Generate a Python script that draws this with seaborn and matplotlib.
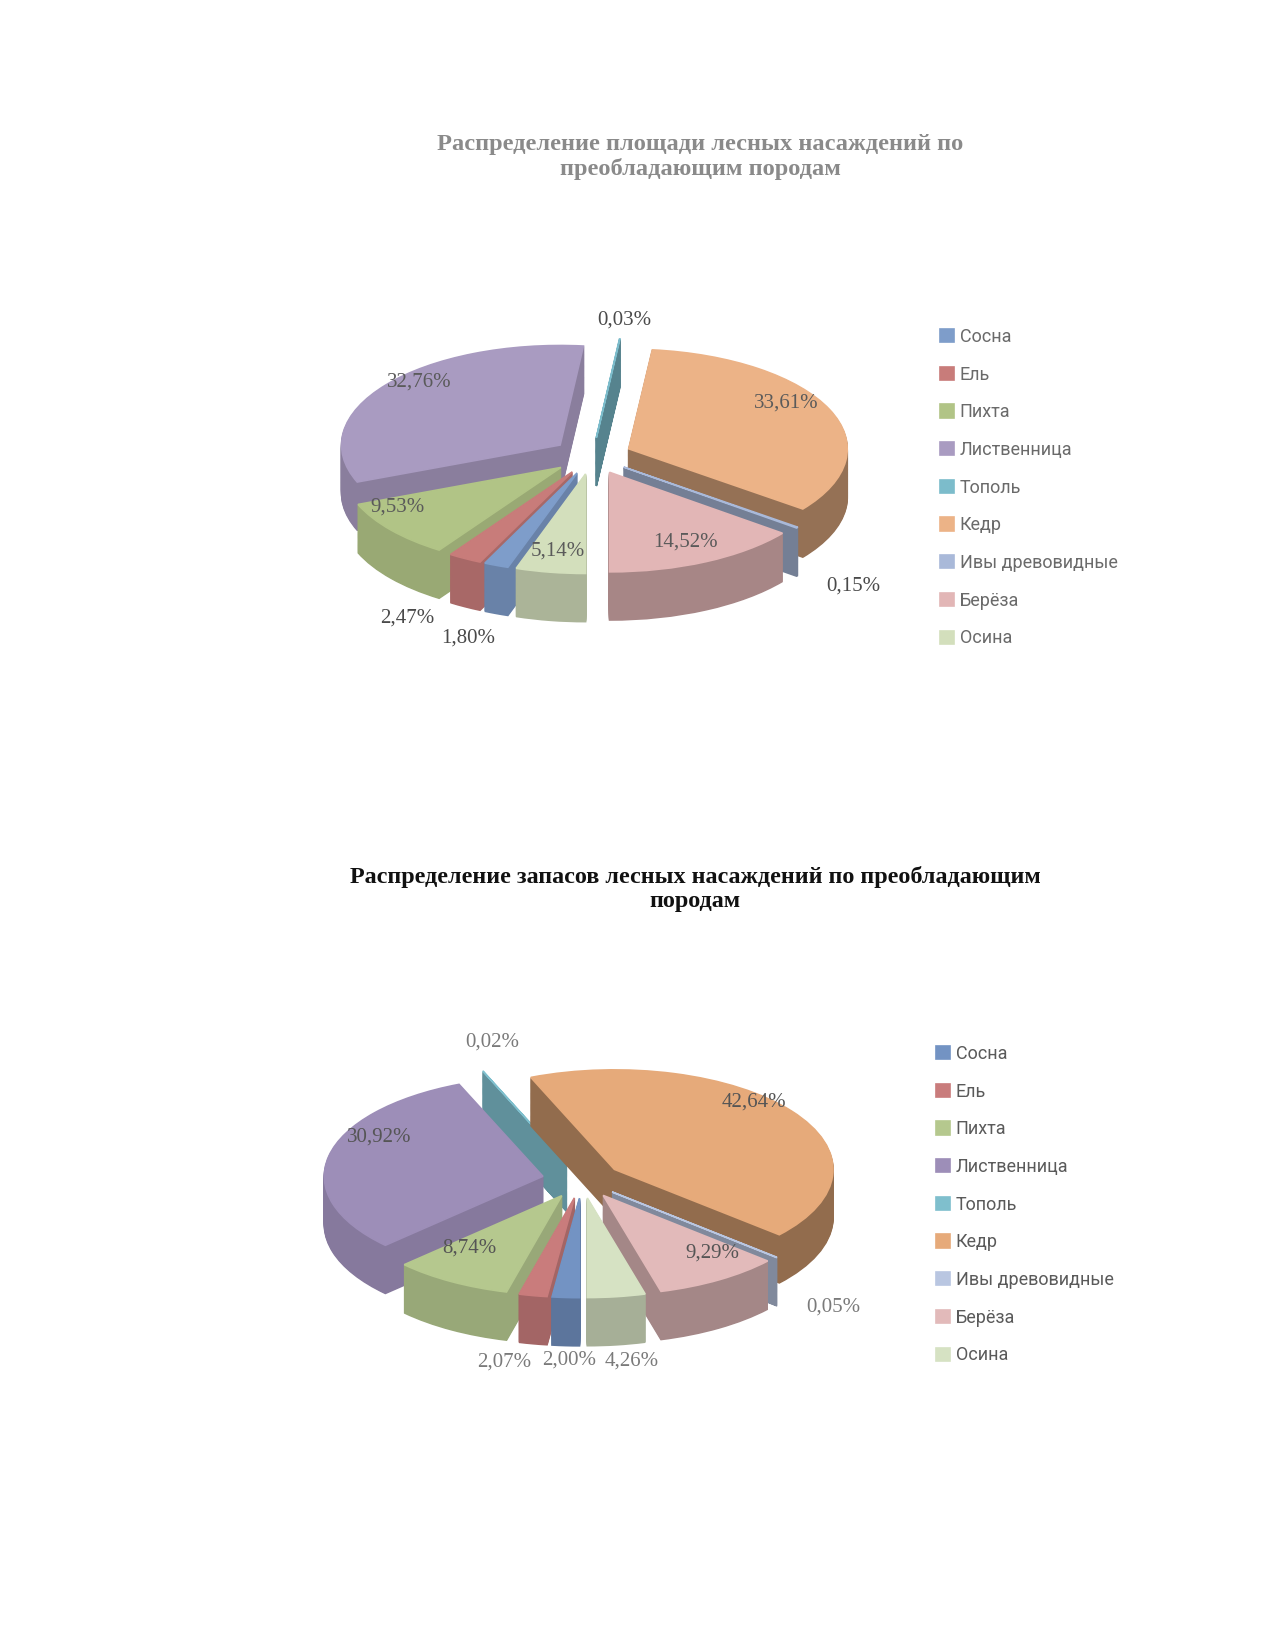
import numpy as np
import matplotlib
matplotlib.use("Agg")
import matplotlib.pyplot as plt
import seaborn as sns
from matplotlib.colors import to_rgb

sns.set_theme(style="white")
plt.rcParams['font.family'] = ['Liberation Serif', 'DejaVu Serif']

# ---------------- data ----------------
species = ['Сосна', 'Ель', 'Пихта', 'Лиственница', 'Тополь', 'Кедр',
           'Ивы древовидные', 'Берёза', 'Осина']
area_pct = [1.80, 2.47, 9.53, 32.76, 0.03, 33.61, 0.15, 14.52, 5.14]
stock_pct = [2.00, 2.07, 8.74, 30.92, 0.02, 42.64, 0.05, 9.29, 4.26]
title_area = 'Распределение площади лесных насаждений по\nпреобладающим породам'
title_stock = 'Распределение запасов лесных насаждений по преобладающим\nпородам'

# ---------------- styles ----------------
colors_area = ['#7E9DCA', '#C87C7A', '#B1C486', '#A99BC1', '#7CBCCB',
               '#ECB387', '#A9B9D9', '#E2B6B6', '#D3DFBC']
colors_stock = ['#7393C3', '#C97C7C', '#B5C88E', '#9D8EB8', '#7FBFCD',
                '#E6AA7A', '#B9C6E1', '#E2BABA', '#D6E2C3']
# label placement (radius, vertical shift, outside?) per slice
lab_area = [(1.42, -0.38, 1), (1.60, -0.12, 1), (1.065, 0.19, 0), (0.92, 0.14, 0),
            (1.28, 0.0, 1), (0.90, 0.14, 0), (1.40, -0.36, 1), (0.90, 0.0, 0),
            (0.90, 0.0, 0)]
lab_stock = [(0.87, -0.81, 1), (1.75, 0.02, 1), (0.95, 0.186, 0), (0.88, 0.22, 0),
             (1.00, 0.37, 1), (0.90, 0.20, 0), (1.42, -0.25, 1), (1.045, 0.203, 0),
             (1.60, -0.11, 1)]

W, H = 1275, 1650
fig = plt.figure(figsize=(W / 100, H / 100), dpi=100)
fig.patch.set_facecolor('white')


def make_axes(cx, cy, sx, sy, xlim, ylim):
    left_px = cx + xlim[0] * sx
    right_px = cx + xlim[1] * sx
    top_px = cy - ylim[1] * sy
    bot_px = cy - ylim[0] * sy
    return fig.add_axes([left_px / W, 1 - bot_px / H,
                         (right_px - left_px) / W, (bot_px - top_px) / H])


def fmt(v):
    return f'{v:.2f}'.replace('.', ',') + '%'


def pie3d(ax, values, colors, labspec, depth, radius, explode_amt, startangle,
          xlim, ylim, lab_color, out_color, n_layers=44):
    explode = [explode_amt] * len(values)
    kw = dict(startangle=startangle, counterclock=False, explode=explode,
              radius=radius, wedgeprops=dict(linewidth=1.2))
    top, _ = ax.pie(values, colors=colors, center=(0, 0), **kw)
    mids = []
    for w in top:
        w.set_edgecolor(w.get_facecolor())
        mids.append(np.deg2rad(0.5 * (w.theta1 + w.theta2)))
    mids = np.array(mids)
    front = -np.sin(mids)
    rank = np.argsort(np.argsort(front))
    side_cols = []
    for c, m in zip(colors, mids):
        f = 0.75 + 0.12 * np.cos(m - np.deg2rad(200))
        side_cols.append(tuple(np.clip(np.array(to_rgb(c)) * f, 0, 1)))
    for k in range(n_layers):
        off = -depth * (1 - k / n_layers)
        ws, _ = ax.pie(values, colors=side_cols, center=(0, off), **kw)
        for i, w in enumerate(ws):
            w.set_edgecolor(w.get_facecolor())
            w.set_zorder(1 + rank[i] + k / (n_layers + 2))
    for i, w in enumerate(top):
        w.set_zorder(1 + rank[i] + (n_layers + 1) / (n_layers + 2))
    for i, (v, m) in enumerate(zip(values, mids)):
        r, dy, out = labspec[i]
        x = r * np.cos(m)
        y = r * np.sin(m) + dy
        ax.text(x, y, fmt(v), ha='center', va='center', fontsize=15,
                color=out_color if out else lab_color, zorder=100,
                family=['Liberation Serif', 'DejaVu Serif'])
    ax.set_aspect('auto')
    ax.set_xlim(*xlim)
    ax.set_ylim(*ylim)
    ax.set_axis_off()
    return top


xl, yl = (-1.45, 1.45), (-2.0, 1.6)
leg_kw = dict(loc='upper left', frameon=False,
              prop={'family': ['Roboto', 'DejaVu Sans'], 'size': 13},
              handlelength=0.75, handleheight=0.75, handletextpad=0.35,
              labelspacing=1.09, borderaxespad=0, borderpad=0)

# ---------------- chart 1 ----------------
ax1 = make_axes(592, 456, 235, 107, xl, yl)
sa1 = 270 - 360 * area_pct[-1] / sum(area_pct)
top1 = pie3d(ax1, area_pct, colors_area, lab_area, 0.45, 0.93, 0.17, sa1, xl, yl,
             '#5a5a5a', '#4a4a4a')
fig.text(700 / W, 1 - 157 / H, title_area, ha='center', va='center',
         fontsize=17.6, fontweight='bold', color='#8a8a8a', linespacing=1.18,
         family=['Liberation Serif', 'DejaVu Serif'])
fig.legend(handles=top1, labels=species, bbox_to_anchor=(940 / W, 1 - 328 / H),
           labelcolor='#6a6a6a', **leg_kw)

# ---------------- chart 2 ----------------
ax2 = make_axes(582, 1180, 235, 107, xl, yl)
top2 = pie3d(ax2, stock_pct, colors_stock, lab_stock, 0.45, 0.93, 0.17, 270, xl, yl,
             '#555555', '#7a7a7a')
fig.text(695 / W, 1 - 889 / H, title_stock, ha='center', va='center',
         fontsize=17.4, fontweight='bold', color='#111111', linespacing=1.18,
         family=['Liberation Serif', 'DejaVu Serif'])
fig.legend(handles=top2, labels=species, bbox_to_anchor=(936 / W, 1 - 1045 / H),
           labelcolor='#5a5a5a', **leg_kw)

fig.savefig('out.png', dpi=100, facecolor='white')
